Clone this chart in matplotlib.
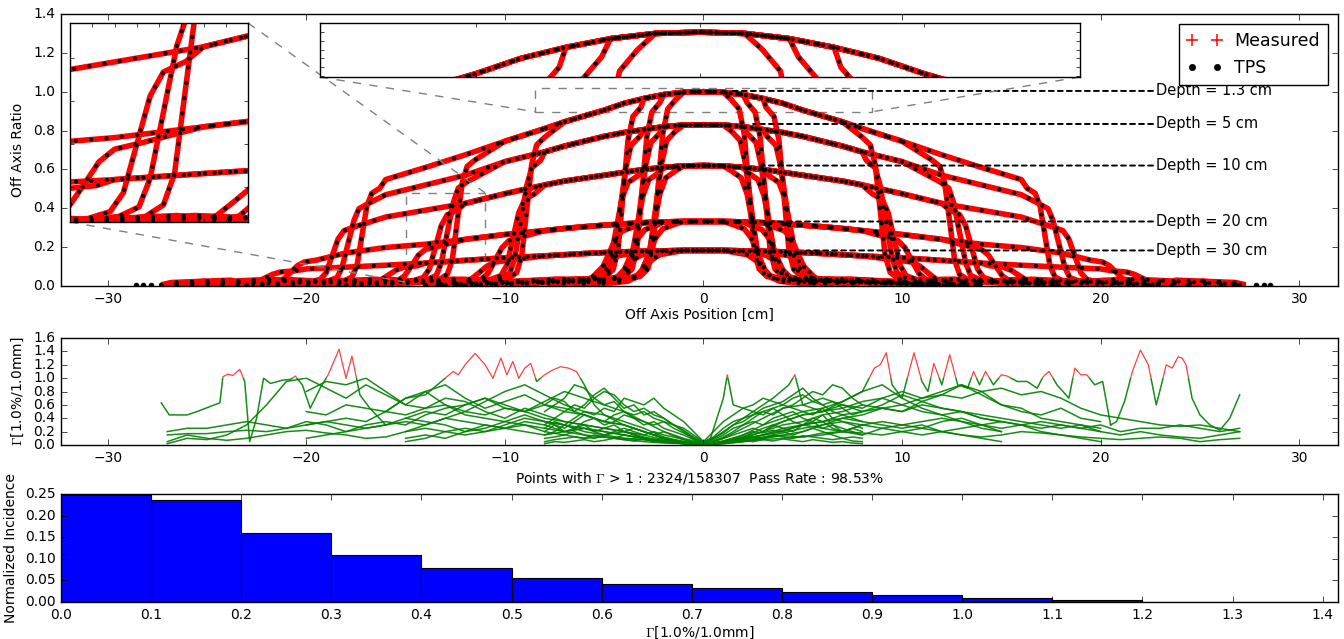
import numpy as np
import matplotlib
matplotlib.use('Agg')
import matplotlib.pyplot as plt
from matplotlib.lines import Line2D
from matplotlib.patches import Rectangle
from mpl_toolkits.axes_grid1.inset_locator import mark_inset

plt.style.use('classic')
plt.rcParams.update({'figure.facecolor': 'white', 'savefig.facecolor': 'white',
                     'font.family': ['DejaVu Sans'], 'mathtext.fontset': 'cm',
                     'font.size': 10, 'xtick.labelsize': 10, 'ytick.labelsize': 10,
                     'axes.labelsize': 10, 'lines.scale_dashes': False})

# ---------------- profile data ----------------
depth_labels = ['Depth = 1.3 cm', 'Depth = 5 cm', 'Depth = 10 cm', 'Depth = 20 cm', 'Depth = 30 cm']
depth_line_y = [1.004, 0.834, 0.62, 0.332, 0.183]
depth_line_x0 = [1.3, 2.5, 2.7, 2.7, 5.2]

# envelope (largest field) per depth, off-axis positions in cm
env_x = [0, 1, 2, 3, 4, 5, 6, 7, 8, 10, 12, 14, 16, 18, 20, 22]
env_13 = [1.0, 0.997, 0.985, 0.965, 0.94, 0.905, 0.875, 0.845, 0.81, 0.745, 0.675, 0.61, 0.548, 0.49, 0.44, 0.40]
env_5 = [0.83, 0.828, 0.82, 0.805, 0.79, 0.77, 0.745, 0.72, 0.69, 0.64, 0.57, 0.52, 0.47, 0.43, 0.40, 0.37]
env_10 = [0.62, 0.618, 0.61, 0.60, 0.585, 0.57, 0.555, 0.54, 0.52, 0.475, 0.425, 0.39, 0.355, 0.32, 0.29, 0.27]
env_20 = [0.332, 0.332, 0.33, 0.326, 0.32, 0.313, 0.305, 0.296, 0.285, 0.265, 0.24, 0.215, 0.198, 0.17, 0.145, 0.125]
env_30 = [0.183, 0.183, 0.181, 0.179, 0.176, 0.172, 0.167, 0.161, 0.155, 0.145, 0.132, 0.118, 0.107, 0.097, 0.088, 0.08]

# field edge (50 %) per field, for depths 1.3, 5, 10, 20, 30 cm
edge_A = [2.3, 2.4, 2.5, 2.75, 3.0]
edge_B = [3.1, 3.2, 3.35, 3.65, 3.95]
edge_C = [4.05, 4.2, 4.4, 4.8, 5.2]
edge_D = [8.9, 9.2, 9.6, 10.5, 11.3]
edge_E = [12.4, 12.9, 13.5, 14.7, 15.9]
edge_F = [17.2, 17.9, 18.7, 20.8, 22.1]
scan_end = [12, 13, 14, 18, 23, 27.3]

# penumbra shape per depth: offsets from edge and fraction of shoulder value
pen_dx_13 = [-0.9, -0.5, -0.25, 0, 0.25, 0.5, 0.9, 1.5]
pen_dx_5 = [-1.0, -0.55, -0.3, 0, 0.3, 0.55, 1.0, 1.7]
pen_dx_10 = [-1.1, -0.6, -0.3, 0, 0.3, 0.6, 1.1, 1.9]
pen_dx_20 = [-1.3, -0.7, -0.35, 0, 0.35, 0.7, 1.3, 2.2]
pen_dx_30 = [-1.5, -0.8, -0.4, 0, 0.4, 0.8, 1.5, 2.5]
pen_f_13 = [0.98, 0.93, 0.80, 0.5, 0.20, 0.09, 0.05, 0.035]
pen_f_5 = [0.98, 0.92, 0.78, 0.5, 0.22, 0.10, 0.06, 0.045]
pen_f_10 = [0.98, 0.92, 0.78, 0.5, 0.22, 0.11, 0.07, 0.05]
pen_f_20 = [0.97, 0.90, 0.76, 0.5, 0.25, 0.13, 0.08, 0.06]
pen_f_30 = [0.97, 0.90, 0.75, 0.5, 0.26, 0.14, 0.09, 0.07]

# out-of-field tail levels (edge+3 cm, edge+6 cm, end of scan)
tail_off = [3.0, 6.0]
tail_13 = [0.030, 0.015, 0.004]
tail_5 = [0.035, 0.018, 0.005]
tail_10 = [0.035, 0.020, 0.006]
tail_20 = [0.030, 0.018, 0.006]
tail_30 = [0.025, 0.015, 0.005]

tps_extra_x = [27.8, 28.2, 28.55]
tps_extra_y = [0.004, 0.004, 0.004]

# ---------------- gamma data ----------------
gamma_F_x = list(range(-27, 28))
gamma_F_1 = [0.2, 0.25, 0.25, 0.3, 0.35, 0.3, 0.25, 0.35, 0.3, 0.2,
             0.25, 0.3, 0.35, 0.3, 0.4, 0.35, 0.3, 0.25, 0.35, 0.3,
             0.2, 0.25, 0.15, 0.2, 0.1, 0.05, 0.03, 0.0,
             0.05, 0.1, 0.15, 0.2, 0.3, 0.25, 0.2,
             0.3, 0.35, 0.3, 0.25, 0.35, 0.4, 0.3, 0.35, 0.3, 0.25,
             0.3, 0.25, 0.3, 0.2, 0.25, 0.25, 0.3, 0.25, 0.2, 0.25]
gamma_F_2 = [0.15, 0.17, 0.17, 0.2, 0.22, 0.2, 0.25, 0.3, 0.35, 0.4,
             0.35, 0.5, 0.45, 0.55, 0.6, 0.5, 0.45, 0.55, 0.5, 0.4,
             0.35, 0.3, 0.25, 0.2, 0.12, 0.06, 0.02, 0.0,
             0.03, 0.08, 0.15, 0.25, 0.3, 0.35, 0.45,
             0.5, 0.55, 0.5, 0.6, 0.55, 0.5, 0.45, 0.4, 0.35, 0.3,
             0.25, 0.3, 0.2, 0.15, 0.2, 0.15, 0.12, 0.1, 0.15, 0.2]
gamma_F_3 = [0.05, 0.15, 0.1, 0.07, 0.1, 0.15, 0.2, 0.22, 0.18, 0.15,
             0.1, 0.12, 0.2, 0.25, 0.2, 0.15, 0.2, 0.25, 0.3, 0.2,
             0.15, 0.1, 0.12, 0.08, 0.05, 0.03, 0.02, 0.0,
             0.02, 0.05, 0.08, 0.1, 0.12, 0.15, 0.2,
             0.18, 0.15, 0.2, 0.25, 0.2, 0.15, 0.12, 0.15, 0.2, 0.18,
             0.15, 0.12, 0.1, 0.08, 0.1, 0.12, 0.1, 0.05, 0.08, 0.1]
gamma_F_4 = [0.02, 0.1, 0.08, 0.15, 0.3, 0.6, 0.95, 1.0, 0.85, 0.7,
             0.9, 0.75, 0.6, 0.8, 0.9, 0.7, 0.55, 0.65, 0.75, 0.6,
             0.5, 0.45, 0.35, 0.3, 0.2, 0.1, 0.04, 0.0,
             0.05, 0.12, 0.2, 0.35, 0.45, 0.5, 0.6,
             0.55, 0.7, 0.8, 0.7, 0.75, 0.9, 0.8, 0.85, 0.75, 0.8,
             0.7, 0.55, 0.45, 0.4, 0.35, 0.3, 0.28, 0.3, 0.25, 0.2]
gamma_E_x = list(range(-20, 21))
gamma_E_1 = [0.8, 0.95, 0.9, 1.0, 0.8, 0.6, 0.55, 0.7, 0.65, 0.5,
             0.4, 0.55, 0.45, 0.35, 0.3, 0.25, 0.2, 0.15, 0.08, 0.03, 0.0,
             0.04, 0.1, 0.2, 0.3, 0.35, 0.45, 0.5, 0.6, 0.55, 0.5,
             0.65, 0.75, 0.7, 0.8, 0.6, 0.55, 0.4, 0.35, 0.3, 0.25]
gamma_E_2 = [0.3, 0.35, 0.3, 0.25, 0.3, 0.4, 0.35, 0.3, 0.2, 0.25,
             0.35, 0.3, 0.25, 0.2, 0.25, 0.2, 0.15, 0.1, 0.06, 0.02, 0.0,
             0.03, 0.07, 0.12, 0.18, 0.25, 0.3, 0.35, 0.3, 0.25, 0.3,
             0.35, 0.4, 0.35, 0.3, 0.25, 0.3, 0.35, 0.3, 0.25, 0.2]
gamma_E_3 = [0.1, 0.15, 0.2, 0.3, 0.35, 0.3, 0.45, 0.55, 0.6, 0.7,
             0.6, 0.5, 0.6, 0.55, 0.45, 0.35, 0.3, 0.2, 0.1, 0.05, 0.0,
             0.05, 0.12, 0.25, 0.35, 0.45, 0.5, 0.55, 0.65, 0.7, 0.6,
             0.5, 0.45, 0.5, 0.4, 0.35, 0.3, 0.2, 0.15, 0.1, 0.05]
gamma_E_4 = [0.5, 0.45, 0.6, 0.55, 0.5, 0.7, 0.8, 0.6, 0.45, 0.4,
             0.35, 0.45, 0.35, 0.3, 0.2, 0.15, 0.1, 0.08, 0.04, 0.02, 0.0,
             0.02, 0.05, 0.1, 0.15, 0.2, 0.3, 0.4, 0.45, 0.55, 0.6,
             0.7, 0.8, 0.9, 0.75, 0.6, 0.5, 0.45, 0.55, 0.4, 0.35]
gamma_D_x = list(range(-15, 16))
gamma_D_1 = [0.2, 0.3, 0.4, 0.5, 0.65, 0.8, 0.9, 0.75, 0.6, 0.5,
             0.45, 0.35, 0.25, 0.12, 0.05, 0.0, 0.06, 0.15, 0.3, 0.4, 0.5,
             0.55, 0.65, 0.8, 0.9, 0.7, 0.55, 0.45, 0.35, 0.25, 0.2]
gamma_D_2 = [0.05, 0.1, 0.2, 0.25, 0.2, 0.3, 0.4, 0.35, 0.3, 0.25,
             0.2, 0.15, 0.1, 0.06, 0.02, 0.0, 0.03, 0.08, 0.15, 0.22, 0.3,
             0.35, 0.4, 0.35, 0.3, 0.25, 0.3, 0.2, 0.15, 0.1, 0.05]
gamma_D_3 = [0.4, 0.5, 0.45, 0.6, 0.7, 0.55, 0.5, 0.65, 0.8, 0.7,
             0.6, 0.5, 0.35, 0.2, 0.08, 0.0, 0.1, 0.25, 0.4, 0.55, 0.6,
             0.7, 0.6, 0.5, 0.6, 0.75, 0.65, 0.55, 0.5, 0.4, 0.35]
gamma_D_4 = [0.1, 0.15, 0.1, 0.2, 0.3, 0.25, 0.2, 0.15, 0.2, 0.15,
             0.12, 0.1, 0.08, 0.05, 0.02, 0.0, 0.03, 0.06, 0.1, 0.14, 0.12,
             0.18, 0.2, 0.15, 0.25, 0.2, 0.15, 0.2, 0.25, 0.3, 0.2]
gamma_S_x = [v / 2 for v in range(-16, 17)]
gamma_S_1 = [0.3, 0.4, 0.5, 0.6, 0.55, 0.7, 0.8, 0.75, 0.6, 0.5, 0.55, 0.45, 0.4, 0.3, 0.25, 0.15, 0.05,
             0.12, 0.25, 0.35, 0.4, 0.5, 0.45, 0.55, 0.6, 0.7, 0.75, 0.65, 0.6, 0.5, 0.45, 0.4, 0.35]
gamma_S_2 = [0.15, 0.2, 0.3, 0.25, 0.35, 0.4, 0.3, 0.35, 0.45, 0.4, 0.3, 0.35, 0.25, 0.2, 0.15, 0.08, 0.0,
             0.06, 0.12, 0.2, 0.3, 0.35, 0.3, 0.4, 0.45, 0.35, 0.3, 0.4, 0.35, 0.25, 0.2, 0.25, 0.2]
gamma_S_3 = [0.5, 0.6, 0.7, 0.9, 0.85, 0.7, 0.6, 0.65, 0.5, 0.45, 0.5, 0.4, 0.35, 0.3, 0.2, 0.1, 0.02,
             0.1, 0.2, 0.3, 0.35, 0.45, 0.5, 0.45, 0.55, 0.6, 0.7, 0.8, 0.75, 0.9, 0.85, 0.7, 0.6]
gamma_S_4 = [0.1, 0.12, 0.15, 0.2, 0.15, 0.1, 0.15, 0.2, 0.25, 0.2, 0.15, 0.2, 0.15, 0.12, 0.08, 0.04, 0.0,
             0.03, 0.06, 0.1, 0.15, 0.2, 0.18, 0.22, 0.2, 0.15, 0.2, 0.25, 0.2, 0.15, 0.1, 0.12, 0.1]
gamma_S_5 = [0.25, 0.35, 0.3, 0.4, 0.5, 0.45, 0.55, 0.5, 0.7, 0.65, 0.6, 0.7, 0.55, 0.45, 0.35, 0.2, 0.05,
             0.2, 0.35, 0.45, 0.55, 0.6, 0.7, 0.65, 0.6, 0.55, 0.5, 0.45, 0.55, 0.4, 0.35, 0.3, 0.25]
gamma_S_6 = [0.05, 0.08, 0.1, 0.12, 0.1, 0.15, 0.12, 0.1, 0.15, 0.12, 0.1, 0.08, 0.1, 0.06, 0.04, 0.02, 0.0,
             0.02, 0.04, 0.07, 0.1, 0.12, 0.1, 0.15, 0.12, 0.1, 0.14, 0.12, 0.1, 0.08, 0.1, 0.06, 0.05]
gamma_S_7 = [0.2, 0.3, 0.25, 0.35, 0.45, 0.4, 0.35, 0.45, 0.5, 0.4, 0.35, 0.3, 0.35, 0.25, 0.18, 0.1, 0.02,
             0.08, 0.15, 0.25, 0.3, 0.4, 0.5, 0.55, 0.45, 0.5, 0.4, 0.35, 0.45, 0.3, 0.25, 0.2, 0.15]
gamma_S_8 = [0.6, 0.7, 0.65, 0.5, 0.6, 0.75, 0.85, 0.7, 0.55, 0.6, 0.45, 0.5, 0.4, 0.3, 0.22, 0.12, 0.04,
             0.1, 0.18, 0.3, 0.4, 0.45, 0.55, 0.6, 0.65, 0.75, 0.85, 0.7, 0.6, 0.65, 0.55, 0.45, 0.5]
gamma_S_9 = [0.02, 0.05, 0.04, 0.06, 0.08, 0.05, 0.07, 0.1, 0.08, 0.06, 0.09, 0.05, 0.06, 0.04, 0.03, 0.01, 0.0,
             0.01, 0.03, 0.05, 0.07, 0.05, 0.08, 0.06, 0.09, 0.07, 0.05, 0.08, 0.06, 0.04, 0.05, 0.03, 0.02]
gamma_S_10 = [0.35, 0.3, 0.2, 0.25, 0.3, 0.2, 0.25, 0.3, 0.2, 0.25, 0.2, 0.15, 0.2, 0.15, 0.1, 0.06, 0.01,
              0.05, 0.1, 0.15, 0.2, 0.25, 0.2, 0.3, 0.25, 0.2, 0.3, 0.35, 0.25, 0.3, 0.2, 0.25, 0.3]
spike_left_x = [-27.3, -26.9, -26.0, -25.5, -24.8, -24.35, -24.2, -23.95, -23.7, -23.35, -23.1, -22.85, -22.5,
                -22.15, -21.8, -21.2, -20.8, -20.55, -20.2, -19.8, -19.3, -18.9, -18.35, -18.0, -17.7, -17.3,
                -16.8, -16.0]
spike_left_y = [0.63, 0.45, 0.45, 0.5, 0.58, 0.63, 1.02, 1.06, 1.04, 1.13, 0.95, 0.05, 0.4,
                1.0, 0.92, 0.97, 0.98, 1.03, 0.9, 0.55, 0.85, 1.05, 1.43, 1.0, 1.33, 0.75,
                0.55, 0.3]
spike_mid_x = [-16, -15, -14, -13.2, -12.6, -12.35, -12.0, -11.5, -11.0, -10.6, -10.2, -9.9, -9.6, -9.3,
               -9.0, -8.7, -8.4, -8.0, -7.6, -7.2, -6.8, -6.4, -6.0, -5.5, -5.0, -4, -3, -2, -1, -0.3]
spike_mid_y = [0.5, 0.7, 0.75, 0.95, 1.1, 1.05, 1.2, 1.37, 1.2, 1.0, 1.3, 1.05, 1.25, 1.0,
               1.15, 1.22, 0.95, 1.05, 1.12, 1.17, 1.15, 1.1, 0.9, 0.6, 0.45, 0.3, 0.2, 0.1, 0.05, 0.0]
spike_right_x = [0.3, 1, 1.2, 1.5, 2.5, 3.5, 4.3, 4.6, 5, 6, 7, 8, 8.6, 8.9, 9.2, 9.5, 10.0, 10.6, 11.0,
                 11.3, 11.6, 12.0, 12.4, 12.8, 13.3, 13.6, 13.9, 14.2, 14.6, 15.0, 15.3, 15.8, 16.3, 16.8,
                 17.1, 17.4, 17.8, 18.4, 18.7, 19.0, 19.3, 19.7, 20.1, 20.5]
spike_right_y = [0.05, 0.7, 1.05, 0.6, 0.5, 0.7, 0.9, 1.05, 0.6, 0.5, 0.65, 0.8, 1.15, 1.2, 1.38, 0.9, 0.7,
                 1.38, 0.95, 0.8, 1.22, 0.9, 1.35, 0.9, 0.85, 1.1, 0.9, 1.1, 0.9, 1.05, 1.03, 0.95, 0.95,
                 0.85, 1.02, 1.1, 0.9, 0.7, 1.15, 1.05, 1.05, 0.9, 0.95, 0.3]
spike_far_x = [20.5, 20.8, 21.2, 21.6, 22.0, 22.4, 22.8, 23.1, 23.3, 23.6, 23.9, 24.1, 24.3, 24.6, 25.0,
               25.5, 26.0, 26.5, 27.0]
spike_far_y = [0.3, 0.35, 0.65, 1.1, 1.42, 1.2, 0.6, 0.95, 1.2, 1.15, 1.32, 1.3, 1.2, 0.7, 0.45,
               0.3, 0.22, 0.4, 0.75]

# ---------------- histogram data ----------------
hist_left = [0.0, 0.1, 0.2, 0.3, 0.4, 0.5, 0.6, 0.7, 0.8, 0.9, 1.0, 1.1, 1.2, 1.3]
hist_height = [0.2477, 0.236, 0.159, 0.108, 0.0797, 0.055, 0.0426, 0.0314, 0.023, 0.0161,
               0.0084, 0.0054, 0.0005, 0.0]

# ---------------- build profile curves ----------------
envs = [env_13, env_5, env_10, env_20, env_30]
pen_dxs = [pen_dx_13, pen_dx_5, pen_dx_10, pen_dx_20, pen_dx_30]
pen_fs = [pen_f_13, pen_f_5, pen_f_10, pen_f_20, pen_f_30]
tails = [tail_13, tail_5, tail_10, tail_20, tail_30]
edges = [edge_A, edge_B, edge_C, edge_D, edge_E, edge_F]


def profile(env_y, edge, pdx, pf, tail, end):
    shoulder = np.interp(edge, env_x, env_y)
    xs = [x for x in env_x if x < edge + pdx[0]]
    ys = [env_y[i] for i, x in enumerate(env_x) if x < edge + pdx[0]]
    xs += [edge + d for d in pdx]
    ys += [f * shoulder for f in pf]
    for off, t in zip(tail_off, tail[:2]):
        if edge + off < end:
            xs.append(edge + off)
            ys.append(t)
    xs.append(end)
    ys.append(tail[2])
    xs = np.array(xs)
    ys = np.array(ys)
    return np.concatenate([-xs[::-1], xs[1:]]), np.concatenate([ys[::-1], ys[1:]])


curves = []
for fi, ed in enumerate(edges):
    for di in range(5):
        curves.append(profile(envs[di], ed[di], pen_dxs[di], pen_fs[di], tails[di], scan_end[fi]))

W, H = 1344, 639
fig = plt.figure(figsize=(W / 100, H / 100), dpi=100)
ax = fig.add_axes([61 / W, 1 - 286 / H, 1277 / W, 272 / H])
ax2 = fig.add_axes([61 / W, 1 - 445 / H, 1277 / W, 107 / H])
ax3 = fig.add_axes([61 / W, 1 - 602 / H, 1277 / W, 108 / H])
axin1 = fig.add_axes([70 / W, 1 - 222 / H, 178 / W, 199 / H])
axin2 = fig.add_axes([320 / W, 1 - 77 / H, 760 / W, 54 / H])


def draw_profiles(a):
    for cx, cy in curves:
        a.plot(cx, cy, color='red', lw=4.0, solid_capstyle='butt', zorder=2)
    for cx, cy in curves:
        a.plot(cx, cy, color='black', lw=3.0, dashes=(0.1, 11), dash_capstyle='round', zorder=3)
    a.plot(tps_extra_x, tps_extra_y, 'o', color='black', ms=3.5, mec='black', zorder=3)
    a.plot([-v for v in tps_extra_x], tps_extra_y, 'o', color='black', ms=3.5, mec='black', zorder=3)


draw_profiles(ax)
ax.set_xlim(-32.35, 31.95)
ax.set_ylim(0, 1.4)
ax.set_xticks([-30, -20, -10, 0, 10, 20, 30])
ax.set_yticks([0.0, 0.2, 0.4, 0.6, 0.8, 1.0, 1.2, 1.4])
ax.set_xlabel('Off Axis Position [cm]', labelpad=2)
ax.set_ylabel('Off Axis Ratio', labelpad=6)

for lab, yv, x0 in zip(depth_labels, depth_line_y, depth_line_x0):
    ax.annotate(lab, xy=(x0, yv), xytext=(22.8, yv), ha='left', va='center', fontsize=10.5,
                arrowprops=dict(arrowstyle='-', linestyle=(0, (3.5, 3)), color='black', lw=1.4,
                                shrinkA=0, shrinkB=0), zorder=5)

handles = [Line2D([], [], color='red', marker='+', ls='none', ms=9, mew=1.1),
           Line2D([], [], color='black', marker='.', ls='none', ms=9)]
leg = ax.legend(handles, ['Measured', 'TPS'], loc='upper right', numpoints=2, fontsize=12.5,
                fancybox=False, borderaxespad=0.6, handletextpad=0.7, borderpad=0.45)
leg.get_frame().set_edgecolor('black')
leg.set_zorder(10)

for a, xl, yl in [(axin1, (-15, -11), (0.02, 0.48)), (axin2, (-8.5, 8.5), (0.897, 1.021))]:
    draw_profiles(a)
    a.set_xlim(*xl)
    a.set_ylim(*yl)
    a.set_xticklabels([])
    a.set_yticklabels([])
    a.tick_params(length=3)
axin2.set_xticks([-5, 0, 5])
mark_inset(ax, axin1, loc1=1, loc2=3, fc='none', ec='0.5', ls='--', lw=1)
mark_inset(ax, axin2, loc1=3, loc2=4, fc='none', ec='0.5', ls='--', lw=1)

# ---------------- gamma panel ----------------
traces = [(gamma_F_x, gamma_F_1), (gamma_F_x, gamma_F_2), (gamma_F_x, gamma_F_3), (gamma_F_x, gamma_F_4),
          (gamma_E_x, gamma_E_1), (gamma_E_x, gamma_E_2), (gamma_E_x, gamma_E_3), (gamma_E_x, gamma_E_4),
          (gamma_D_x, gamma_D_1), (gamma_D_x, gamma_D_2), (gamma_D_x, gamma_D_3), (gamma_D_x, gamma_D_4),
          (gamma_S_x, gamma_S_1), (gamma_S_x, gamma_S_2), (gamma_S_x, gamma_S_3),
          (gamma_S_x, gamma_S_4), (gamma_S_x, gamma_S_5), (gamma_S_x, gamma_S_6),
          (gamma_S_x, gamma_S_7), (gamma_S_x, gamma_S_8), (gamma_S_x, gamma_S_9), (gamma_S_x, gamma_S_10),
          (spike_left_x, spike_left_y), (spike_mid_x, spike_mid_y),
          (spike_right_x, spike_right_y), (spike_far_x, spike_far_y)]
clip_lo = Rectangle((-40, -1), 80, 2.0, transform=ax2.transData)
clip_hi = Rectangle((-40, 1.0), 80, 5.0, transform=ax2.transData)
for gx, gy in traces:
    lg, = ax2.plot(gx, gy, color='green', lw=1.1, alpha=0.9)
    lg.set_clip_path(clip_lo)
    lr, = ax2.plot(gx, gy, color='red', lw=0.9, alpha=0.75)
    lr.set_clip_path(clip_hi)
ax2.set_xlim(-32.35, 31.95)
ax2.set_ylim(0, 1.6)
ax2.set_xticks([-30, -20, -10, 0, 10, 20, 30])
ax2.set_yticks([0.0, 0.2, 0.4, 0.6, 0.8, 1.0, 1.2, 1.4, 1.6])
ax2.set_ylabel(r'$\Gamma$[1.0%/1.0mm]')
ax2.set_xlabel(r'Points with $\Gamma$ > 1 : 2324/158307  Pass Rate : 98.53%', labelpad=4)

# ---------------- histogram ----------------
ax3.bar(hist_left, hist_height, width=0.1, align='edge', color='blue', edgecolor='black', lw=0.8)
ax3.set_xlim(0, 1.417)
ax3.set_ylim(0, 0.25)
ax3.set_xticks([0.0, 0.1, 0.2, 0.3, 0.4, 0.5, 0.6, 0.7, 0.8, 0.9, 1.0, 1.1, 1.2, 1.3, 1.4])
ax3.set_yticks([0.0, 0.05, 0.10, 0.15, 0.20, 0.25])
ax3.set_xlabel(r'$\Gamma$[1.0%/1.0mm]', labelpad=2)
ax3.set_ylabel('Normalized Incidence')

fig.savefig('out.png', dpi=100)
